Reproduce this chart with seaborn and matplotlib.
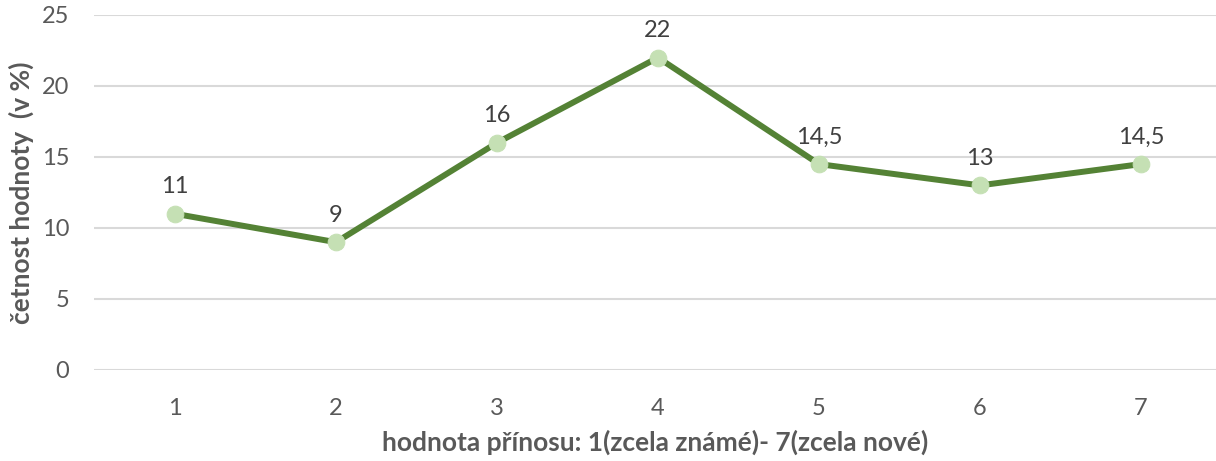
import matplotlib
matplotlib.use("Agg")
import matplotlib.pyplot as plt
import seaborn as sns
import pandas as pd

# data
categories = [1, 2, 3, 4, 5, 6, 7]
values = [11, 9, 16, 22, 14.5, 13, 14.5]
value_labels = ["11", "9", "16", "22", "14,5", "13", "14,5"]
y_ticks = [0, 5, 10, 15, 20, 25]

df = pd.DataFrame({"kat": categories, "hodnota": values})

sns.set_style("white")
plt.rcParams['font.family'] = ['Lato', 'DejaVu Sans']

fig = plt.figure(figsize=(12.16, 4.61), dpi=100)
ax = fig.add_axes([0.0777, 0.1974, 0.9223, 0.7701])

sns.lineplot(data=df, x="kat", y="hodnota", ax=ax, color='#548235', linewidth=4.3,
             marker='o', markersize=12, markerfacecolor='#C5E0B4',
             markeredgecolor='#C5E0B4', zorder=3)

for x, y, lab in zip(categories, values, value_labels):
    ax.annotate(lab, (x, y), xytext=(0, 12), textcoords='offset points',
                ha='center', va='bottom', fontsize=17, color='#404040')

ax.set_xlim(0.5, 7.466)
ax.set_ylim(0, 25)
ax.set_xticks(categories)
ax.set_yticks(y_ticks)
ax.tick_params(axis='both', length=0, labelsize=17, labelcolor='#595959')
ax.tick_params(axis='x', pad=20)
ax.tick_params(axis='y', pad=18)
ax.grid(axis='y', color='#D9D9D9', linewidth=1.5)
ax.set_axisbelow(True)
for s in ax.spines.values():
    s.set_visible(False)

ax.set_xlabel('hodnota přínosu: 1(zcela známé)- 7(zcela nové)', fontsize=19,
              fontweight='bold', color='#595959', labelpad=8)
ax.set_ylabel('četnost hodnoty  (v %)', fontsize=19, fontweight='bold',
              color='#595959', labelpad=6)

fig.savefig('out.png', dpi=100)
